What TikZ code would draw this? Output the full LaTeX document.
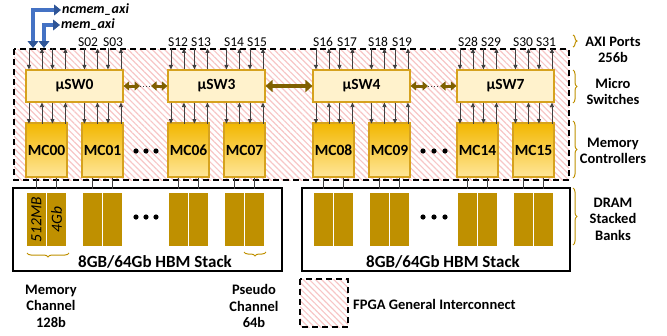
\documentclass[tikz,border=0pt]{standalone}
\usepackage{fontspec}
\setmainfont{Carlito}
\usetikzlibrary{arrows.meta}
\usetikzlibrary{decorations.pathreplacing}
\usetikzlibrary{patterns.meta}

\definecolor{swfill}{HTML}{FFF2CC}
\definecolor{gold}{HTML}{D6A21E}
\definecolor{mctop}{HTML}{F2B700}
\definecolor{mcbot}{HTML}{FFE699}
\definecolor{bankgold}{HTML}{BF9000}
\definecolor{linkbrown}{HTML}{7F6000}
\definecolor{hatchpink}{HTML}{F7C6C6}
\definecolor{axiblue}{HTML}{4472C4}
\definecolor{axiedge}{HTML}{2F5597}
\definecolor{wiregray}{HTML}{404040}

\begin{document}
\begin{tikzpicture}[x=1pt,y=-1pt,
  switch/.style={draw=gold, fill=swfill, line width=1.1pt, minimum width=97pt, minimum height=32pt, inner sep=0pt, font=\fontsize{15.5}{18}\selectfont\bfseries},
  mc/.style={draw=gold, top color=mctop, bottom color=mcbot, line width=1.1pt, minimum width=41pt, minimum height=54pt, inner sep=0pt, font=\fontsize{15.5}{18}\selectfont\bfseries},
  bank/.style={fill=bankgold, minimum width=19pt, minimum height=53pt, inner sep=0pt},
  banktext/.style={rotate=90, font=\fontsize{15.5}{18}\selectfont\itshape},
  hbm/.style={draw=black, line width=1.2pt, minimum height=83pt, inner sep=0pt},
  fpga/.style={draw=black, line width=1.3pt, dash pattern=on 6pt off 4pt, pattern={Lines[angle=-45,distance=4.3pt,line width=1.2pt]}, pattern color=hatchpink},
  port/.style={draw=wiregray, line width=0.8pt, -{Triangle[length=4.5pt,width=4pt]}},
  wire/.style={draw=wiregray, line width=0.8pt},
  smalllink/.style={draw=linkbrown, line width=3pt, {Triangle[length=5.5pt,width=9pt]}-{Triangle[length=5.5pt,width=9pt]}},
  biglink/.style={draw=linkbrown, line width=4.5pt, {Triangle[length=7pt,width=12pt]}-{Triangle[length=7pt,width=12pt]}},
  axi/.style={draw=axiedge, double=axiblue, line width=0.8pt, double distance=3.2pt, {Triangle[length=7pt,width=11pt]}-{Triangle[length=7pt,width=11pt]}},
  brace/.style={decorate, decoration={brace, amplitude=4pt}, draw=bankgold, line width=1pt},
  side/.style={align=center, font=\fontsize{14.5}{16.5}\selectfont\bfseries},
  portlabel/.style={inner sep=0pt, font=\fontsize{13.5}{16}\selectfont}
]
\useasboundingbox (0,0) rectangle (667,335);

% FPGA fabric
\draw[fpga] (14,49) rectangle (569,180);

% micro switches
\foreach \n/\x in {0/74.5, 3/216.5, 4/361.5, 7/505.5}
  \node[switch] (sw\n) at (\x,86) {µSW\n};

% memory controllers
\foreach \n/\x in {00/46.5, 01/102.5, 06/188.5, 07/244.5, 08/333.5, 09/389.5, 14/477.5, 15/533.5}
  \node[mc] (mc\n) at (\x,150) {MC\n};

% AXI ports, in and out
\foreach \n in {0,3,4,7} {
  \foreach \dx in {3.5,27,59,82.5} {
    \draw[port] (sw\n.north west) ++(\dx,-21) -- ++(0,21);
    \draw[port] (sw\n.south west) ++(\dx,0) -- ++(0,21);
  }
  \foreach \dx in {16.5,40,72,95.5} {
    \draw[port] (sw\n.north west) ++(\dx,0) -- ++(0,-21);
    \draw[port] (sw\n.south west) ++(\dx,21) -- ++(0,-21);
  }
}

\foreach \s/\x in {S02/88, S03/113, S12/178, S13/201, S14/234, S15/257, S16/323, S17/347, S18/378, S19/402, S28/468, S29/491, S30/523, S31/546}
  \node[portlabel] (l\s) at (\x,42) {\s};

% switch to switch
\coordinate (d0a) at (140,86);
\coordinate (d0b) at (151,86);
\coordinate (d4a) at (428,86);
\coordinate (d4b) at (440,86);
\draw[smalllink] (sw0.east) -- (d0a);
\draw[wiregray, line width=1pt, dotted] (d0a) -- (d0b);
\draw[smalllink] (d0b) -- (sw3.west);
\draw[biglink] (sw3.east) -- (sw4.west);
\draw[smalllink] (sw4.east) -- (d4a);
\draw[wiregray, line width=1pt, dotted] (d4a) -- (d4b);
\draw[smalllink] (d4b) -- (sw7.west);

% host side
\node[anchor=west, inner sep=1pt, font=\fontsize{14}{16}\selectfont\bfseries\itshape] (ncmem) at (61,10) {ncmem\_axi};
\node[anchor=west, inner sep=1pt, font=\fontsize{14}{16}\selectfont\bfseries\itshape] (mem) at (60,25) {mem\_axi};
\coordinate (ncmemin) at (33,48);
\coordinate (memin) at (44,48);
\draw[axi] (ncmem.west) -| (ncmemin);
\draw[axi] (mem.west) -| (memin);

% HBM stacks
\node[hbm, minimum width=269pt] (hbm0) at (147.5,229.5) {};
\node[hbm, minimum width=268pt] (hbm1) at (436,229.5) {};
\node[font=\fontsize{17}{20}\selectfont\bfseries] (stack0) at (155,262) {8GB/64Gb HBM Stack};
\node[font=\fontsize{17}{20}\selectfont\bfseries] (stack1) at (443,262) {8GB/64Gb HBM Stack};

\foreach \n/\x in {00/46.5, 01/102.5, 06/188.5, 07/244.5, 08/333.5, 09/389.5, 14/477.5, 15/533.5} {
  \node[bank] (bk\n a) at (\x-10,219.5) {};
  \node[bank] (bk\n b) at (\x+10,219.5) {};
  \draw[wire] (mc\n.south) ++(-10,0) -- ++(0,11);
  \draw[wire] (mc\n.south) ++(10,0) -- ++(0,11);
}
\node[banktext] at (bk00a) {512MB};
\node[banktext] at (bk00b) {4Gb};

% dots
\foreach \x in {136,146,156,423,434,445} {
  \fill (\x,151) circle (2.6pt);
  \fill (\x,217) circle (2.6pt);
}

% braces
\draw[brace] (69,253) -- (27,253);
\draw[brace] (266,252) -- (244,252);
\draw[brace] (573,35) -- (573,47);
\draw[brace] (573,70) -- (573,103);
\draw[brace] (573,121) -- (573,178);
\draw[brace] (573,188) -- (573,245);

% labels
\node[side] (axilbl) at (613,50) {AXI Ports\\256b};
\node[side] (swlbl) at (613,91.5) {Micro\\Switches};
\node[side] (mclbl) at (613,151) {Memory\\Controllers};
\node[side] (dramlbl) at (613,219) {DRAM\\Stacked\\Banks};
\node[side] (chlbl) at (51,306) {Memory\\Channel\\128b};
\node[side] (pclbl) at (254,306) {Pseudo\\Channel\\64b};

% legend
\draw[fpga] (300,279) rectangle (348,327);
\node[anchor=west, inner sep=1pt, font=\fontsize{14.5}{16.5}\selectfont\bfseries] (legend) at (352,304) {FPGA General Interconnect};
\end{tikzpicture}
\end{document}
